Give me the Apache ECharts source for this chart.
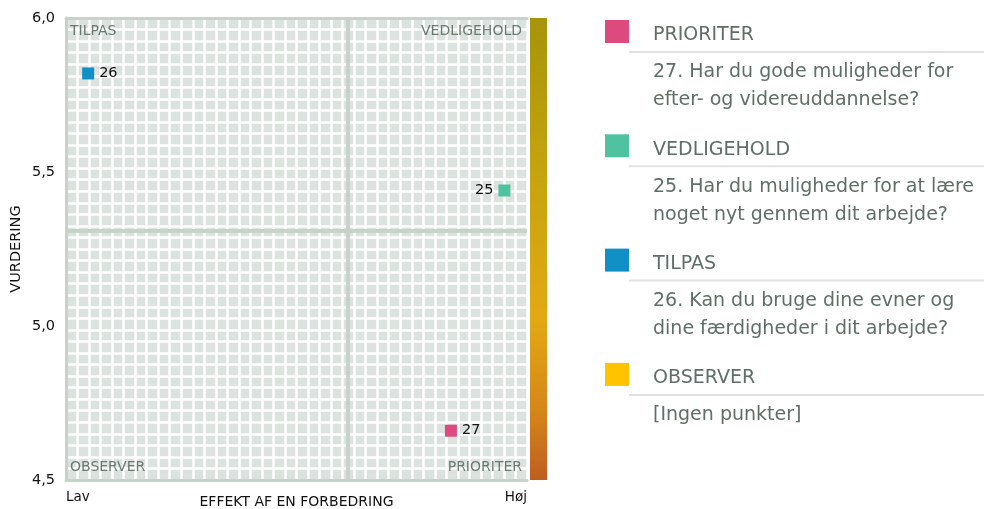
<!DOCTYPE html>
<html>
<head>
<meta charset="utf-8">
<script src="https://cdn.jsdelivr.net/npm/echarts@6/dist/echarts.min.js"></script>
<style>
html,body{margin:0;padding:0;background:#fff;}
#chart{width:984px;height:509px;}
</style>
</head>
<body>
<div id="chart"></div>
<script>
// ---- data ----
const pointIds = ['25', '26', '27'];
const effectValues = [95.1, 4.8, 83.5];      // EFFEKT AF EN FORBEDRING (Lav..Høj, 0..100)
const ratingValues = [5.44, 5.82, 4.66];     // VURDERING
const pointQuadrant = ['VEDLIGEHOLD', 'TILPAS', 'PRIORITER'];
const pointLabelSide = ['left', 'right', 'right'];
const yTickLabels = [4.5, 5.0, 5.5, 6.0];
const xTickLabels = ['Lav', 'Høj'];
const quadrantNames = ['PRIORITER', 'VEDLIGEHOLD', 'TILPAS', 'OBSERVER'];
const quadrantColors = ['#dd4a7e', '#4fc2a0', '#1190c6', '#ffc300'];
const quadrantTexts = [
  ['27. Har du gode muligheder for', 'efter- og videreuddannelse?'],
  ['25. Har du muligheder for at lære', 'noget nyt gennem dit arbejde?'],
  ['26. Kan du bruge dine evner og', 'dine færdigheder i dit arbejde?'],
  ['[Ingen punkter]']
];
const xAxisTitle = 'EFFEKT AF EN FORBEDRING';
const yAxisTitle = 'VURDERING';

// ---- derived ----
const mean = a => a.reduce((s, v) => s + v, 0) / a.length;
const xMid = mean(effectValues);
const yMid = mean(ratingValues);

const FONT = 'DejaVu Sans';
const chart = echarts.init(document.getElementById('chart'), null, {renderer: 'canvas'});

const G = {left: 66, top: 18, width: 461, height: 462};

const scatterData = pointIds.map((id, i) => ({
  name: id,
  value: [effectValues[i], ratingValues[i]],
  itemStyle: {color: quadrantColors[quadrantNames.indexOf(pointQuadrant[i])], opacity: 1},
  label: {position: pointLabelSide[i]}
}));

const graphics = [];
// colour bar
graphics.push({
  type: 'rect', left: 530, top: 18, z: 10,
  shape: {width: 17, height: 462},
  style: {fill: new echarts.graphic.LinearGradient(0, 0, 0, 1, [
    {offset: 0, color: '#a6940a'},
    {offset: 0.35, color: '#c7a40f'},
    {offset: 0.65, color: '#e2a914'},
    {offset: 0.85, color: '#d5861a'},
    {offset: 1, color: '#bf5e1f'}
  ])}
});
// quadrant labels inside plot
const qStyle = {fill: '#6a7a71', font: '14px "' + FONT + '"'};
graphics.push({type: 'text', left: 70, top: 24, z: 20, style: Object.assign({text: 'TILPAS'}, qStyle)});
graphics.push({type: 'text', right: 984 - 522, top: 24, z: 20, style: Object.assign({text: 'VEDLIGEHOLD'}, qStyle)});
graphics.push({type: 'text', left: 70, top: 460, z: 20, style: Object.assign({text: 'OBSERVER'}, qStyle)});
graphics.push({type: 'text', right: 984 - 522, top: 460, z: 20, style: Object.assign({text: 'PRIORITER'}, qStyle)});

// legend panel
const LF = '19px "' + FONT + '"';
quadrantNames.forEach((name, i) => {
  const y0 = 20 + i * 114.3;
  graphics.push({type: 'rect', left: 605, top: y0, shape: {width: 24, height: 23}, style: {fill: quadrantColors[i]}});
  graphics.push({type: 'text', left: 653, top: y0 + 6, style: {text: name, fill: '#5f6f66', font: LF}});
  graphics.push({type: 'rect', left: 629, top: y0 + 31, shape: {width: 355, height: 2}, style: {fill: '#e2e2e2'}});
  quadrantTexts[i].forEach((line, j) => {
    graphics.push({type: 'text', left: 653, top: y0 + 43 + j * 28, style: {text: line, fill: '#5f6f66', font: LF}});
  });
});

const borderColor = '#c6d2ca';
const hiddenAxis = {axisTick: {show: false}, axisLabel: {show: false}, splitLine: {show: false}};

const option = {
  animation: false,
  backgroundColor: '#ffffff',
  textStyle: {fontFamily: FONT},
  grid: {left: G.left, top: G.top, width: G.width, height: G.height, show: true,
         backgroundColor: '#dce2de', borderWidth: 0, containLabel: false, outerBoundsMode: 'none'},
  xAxis: [{
    type: 'value', min: 0, max: 100, interval: 2.5,
    name: xAxisTitle, nameLocation: 'middle', nameGap: 15, nameMoveOverlap: false,
    nameTextStyle: {color: '#111', fontSize: 14, fontFamily: FONT},
    axisLine: {show: true, lineStyle: {color: borderColor, width: 3}},
    axisTick: {show: false},
    splitLine: {show: true, lineStyle: {color: '#ffffff', width: 2.5}},
    axisLabel: {
      margin: 10, color: '#111', fontSize: 13.5, fontFamily: FONT,
      showMinLabel: true, showMaxLabel: true, alignMinLabel: 'left', alignMaxLabel: 'right',
      formatter: v => v === 0 ? xTickLabels[0] : (v === 100 ? xTickLabels[1] : '')
    }
  }, Object.assign({
    type: 'value', position: 'top', min: 0, max: 100,
    axisLine: {show: true, lineStyle: {color: borderColor, width: 3}}
  }, hiddenAxis)],
  yAxis: [{
    type: 'value', min: 4.5, max: 6.0, interval: 0.0375,
    axisLine: {show: true, lineStyle: {color: borderColor, width: 3}},
    axisTick: {show: false}, axisLabel: {show: false},
    splitLine: {show: true, lineStyle: {color: '#ffffff', width: 2.5}}
  }, Object.assign({
    type: 'value', position: 'right', min: 4.5, max: 6.0,
    axisLine: {show: true, lineStyle: {color: borderColor, width: 3}}
  }, hiddenAxis), {
    type: 'value', position: 'left', min: 4.5, max: 6.0, interval: 0.5,
    name: yAxisTitle, nameLocation: 'middle', nameGap: 42, nameRotate: 90, nameMoveOverlap: false,
    nameTextStyle: {color: '#111', fontSize: 14.5, fontFamily: FONT},
    axisLine: {show: false}, axisTick: {show: false}, splitLine: {show: false},
    axisLabel: {
      margin: 11, color: '#111', fontSize: 14.5, fontFamily: FONT,
      formatter: v => {
        const hit = yTickLabels.find(t => Math.abs(t - v) < 1e-6);
        return hit === undefined ? '' : hit.toFixed(1).replace('.', ',');
      }
    }
  }],
  series: [{
    type: 'scatter',
    symbol: 'rect',
    symbolSize: 12,
    data: scatterData,
    z: 5,
    label: {show: true, formatter: '{b}', color: '#111', fontSize: 14.5, fontFamily: FONT, distance: 5},
    markLine: {
      silent: true, symbol: 'none', label: {show: false},
      lineStyle: {color: borderColor, width: 4, type: 'solid', opacity: 1},
      emphasis: {disabled: true},
      data: [{xAxis: xMid}, {yAxis: yMid}]
    }
  }],
  graphic: graphics
};
chart.setOption(option);
</script>
</body>
</html>
